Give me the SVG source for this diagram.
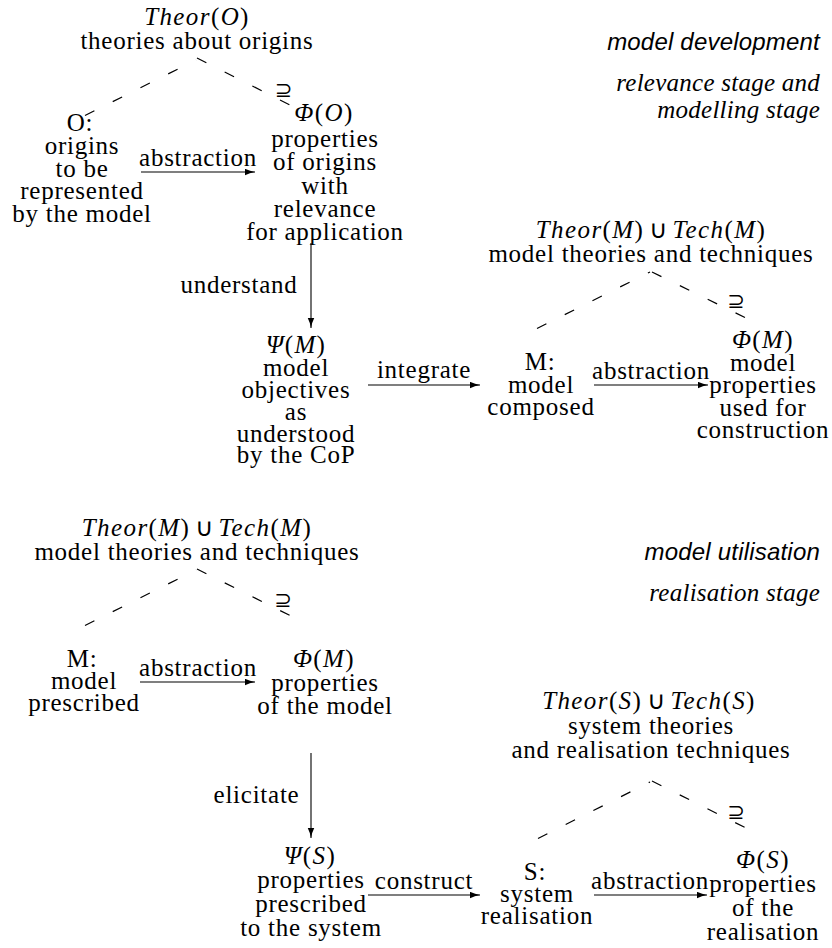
<svg xmlns="http://www.w3.org/2000/svg" width="832" height="948" viewBox="0 0 832 948">
<style>
text{fill:#000}
.t{font-family:"Liberation Serif",serif;font-size:25px;letter-spacing:0.75px;text-anchor:middle}
.m{letter-spacing:1.4px}
.i{font-style:italic}
.op{font-family:"DejaVu Sans",sans-serif;font-style:normal;letter-spacing:0}
.sup{font-family:"DejaVu Sans",sans-serif;font-size:21px;text-anchor:middle}
.lab{font-family:"Liberation Serif",serif;font-size:25px;letter-spacing:0.75px;text-anchor:middle}
.sans{font-family:"Liberation Sans",sans-serif;font-style:italic;font-size:24px;letter-spacing:0.2px;text-anchor:end}
.sit{font-family:"Liberation Serif",serif;font-style:italic;font-size:25px;letter-spacing:0.25px;text-anchor:end}
.dash{fill:none;stroke:#000;stroke-width:1.2;stroke-dasharray:10.5 20.5}
.arr{fill:none;stroke:#000;stroke-width:1.1;marker-end:url(#tip)}
</style>
<defs>
<marker id="tip" markerUnits="userSpaceOnUse" markerWidth="12" markerHeight="8" refX="10.5" refY="3.5" orient="auto">
<path d="M0,0 Q5,2.6 10.5,3.5 Q5,4.4 0,7 z" fill="#000"/>
</marker>
</defs>

<g id="connectors">
<path class="dash" d="M85,115.5 L196,60"/>
<path class="dash" d="M197,58 L293,106.5"/>
<path class="dash" d="M537,328.5 L650,272"/>
<path class="dash" d="M652,272 L748,319"/>
<path class="dash" d="M85,625.5 L196,570"/>
<path class="dash" d="M197,569 L293,617"/>
<path class="dash" d="M538,838.5 L650,782"/>
<path class="dash" d="M652,781 L748,829"/>
<text class="sup" x="283.5" y="97">⊇</text>
<text class="sup" x="736" y="308">⊇</text>
<text class="sup" x="283" y="607">⊇</text>
<text class="sup" x="736" y="819">⊇</text>

<path class="arr" d="M141,172 H255"/>
<text class="lab" x="198" y="166">abstraction</text>
<path class="arr" d="M311,243 V328"/>
<text class="lab" x="239" y="293">understand</text>
<path class="arr" d="M368,385 H480"/>
<text class="lab" x="424" y="378">integrate</text>
<path class="arr" d="M594,385 H708"/>
<text class="lab" x="651" y="379">abstraction</text>
<path class="arr" d="M140,682 H255"/>
<text class="lab" x="198" y="676">abstraction</text>
<path class="arr" d="M311,753 V838"/>
<text class="lab" x="256.5" y="803">elicitate</text>
<path class="arr" d="M368,895 H480"/>
<text class="lab" x="424" y="889">construct</text>
<path class="arr" d="M594,895 H707"/>
<text class="lab" x="650" y="889">abstraction</text>
</g>

<g id="theorO">
<text class="t m" x="197" y="25"><tspan class="i">Theor</tspan>(<tspan class="i">O</tspan>)</text>
<text class="t" x="197" y="49">theories about origins</text>
</g>

<g id="O">
<text class="t" x="80" y="131">O:</text>
<text class="t" x="82" y="153.75">origins</text>
<text class="t" x="82" y="176.5">to be</text>
<text class="t" x="82" y="199.25">represented</text>
<text class="t" x="82" y="222">by the model</text>
</g>

<g id="phiO">
<text class="t m" x="324" y="121"><tspan class="i">Φ</tspan>(<tspan class="i">O</tspan>)</text>
<text class="t" x="325" y="147">properties</text>
<text class="t" x="325" y="170">of origins</text>
<text class="t" x="325" y="193.5">with</text>
<text class="t" x="325" y="216.5">relevance</text>
<text class="t" x="325" y="239.5">for application</text>
</g>

<g id="psiM">
<text class="t m" x="296" y="353"><tspan class="i">Ψ</tspan>(<tspan class="i">M</tspan>)</text>
<text class="t" x="296" y="376">model</text>
<text class="t" x="296" y="398">objectives</text>
<text class="t" x="296" y="420">as</text>
<text class="t" x="296" y="441.5">understood</text>
<text class="t" x="296" y="463">by the CoP</text>
</g>

<g id="theorM1">
<text class="t m" x="651" y="238"><tspan class="i">Theor</tspan>(<tspan class="i">M</tspan>)<tspan class="op" dx="5">∪</tspan><tspan class="i" dx="5">Tech</tspan>(<tspan class="i">M</tspan>)</text>
<text class="t" x="651" y="262">model theories and techniques</text>
</g>

<g id="M1">
<text class="t" x="540" y="370">M:</text>
<text class="t" x="541" y="392.5">model</text>
<text class="t" x="541" y="415">composed</text>
</g>

<g id="phiM1">
<text class="t m" x="763" y="348"><tspan class="i">Φ</tspan>(<tspan class="i">M</tspan>)</text>
<text class="t" x="763" y="370.5">model</text>
<text class="t" x="763" y="393">properties</text>
<text class="t" x="763" y="415.5">used for</text>
<text class="t" x="763" y="438">construction</text>
</g>

<g id="stageDev">
<text class="sans" x="820" y="50">model development</text>
<text class="sit" x="820" y="91">relevance stage and</text>
<text class="sit" x="820" y="118">modelling stage</text>
</g>

<g id="theorM2">
<text class="t m" x="197" y="536"><tspan class="i">Theor</tspan>(<tspan class="i">M</tspan>)<tspan class="op" dx="5">∪</tspan><tspan class="i" dx="5">Tech</tspan>(<tspan class="i">M</tspan>)</text>
<text class="t" x="197" y="560">model theories and techniques</text>
</g>

<g id="M2">
<text class="t" x="82" y="667">M:</text>
<text class="t" x="84" y="689">model</text>
<text class="t" x="84" y="711">prescribed</text>
</g>

<g id="phiM2">
<text class="t m" x="324" y="667"><tspan class="i">Φ</tspan>(<tspan class="i">M</tspan>)</text>
<text class="t" x="325" y="690.5">properties</text>
<text class="t" x="325" y="714">of the model</text>
</g>

<g id="stageUtil">
<text class="sans" x="820" y="560">model utilisation</text>
<text class="sit" x="820" y="601">realisation stage</text>
</g>

<g id="psiS">
<text class="t m" x="310" y="864"><tspan class="i">Ψ</tspan>(<tspan class="i">S</tspan>)</text>
<text class="t" x="311" y="888">properties</text>
<text class="t" x="311" y="912">prescribed</text>
<text class="t" x="311" y="936">to the system</text>
</g>

<g id="theorS">
<text class="t m" x="649" y="709"><tspan class="i">Theor</tspan>(<tspan class="i">S</tspan>)<tspan class="op" dx="5">∪</tspan><tspan class="i" dx="5">Tech</tspan>(<tspan class="i">S</tspan>)</text>
<text class="t" x="651" y="734">system theories</text>
<text class="t" x="651" y="758">and realisation techniques</text>
</g>

<g id="S">
<text class="t" x="535" y="880">S:</text>
<text class="t" x="537" y="902">system</text>
<text class="t" x="537" y="924">realisation</text>
</g>

<g id="phiS">
<text class="t m" x="763" y="868"><tspan class="i">Φ</tspan>(<tspan class="i">S</tspan>)</text>
<text class="t" x="763" y="892">properties</text>
<text class="t" x="763" y="916">of the</text>
<text class="t" x="763" y="940">realisation</text>
</g>
</svg>
